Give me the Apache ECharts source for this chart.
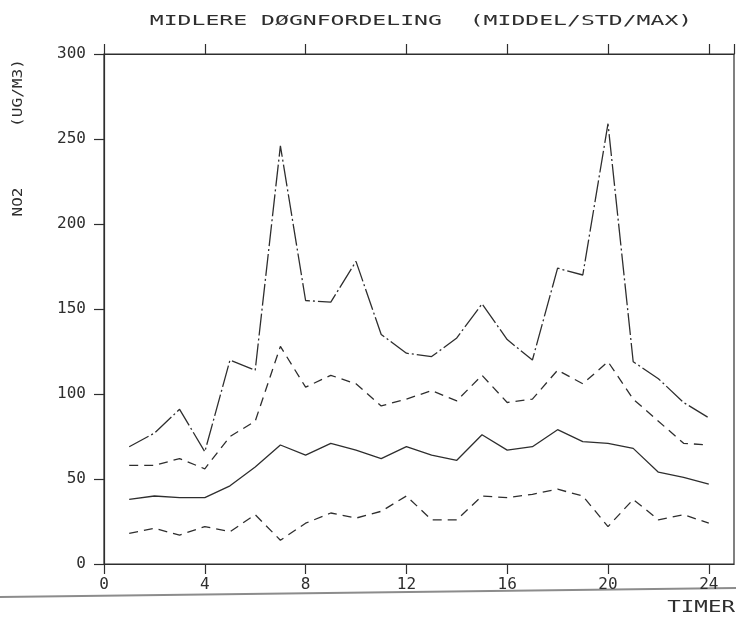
<!DOCTYPE html>
<html>
<head>
<meta charset="utf-8">
<script src="https://cdn.jsdelivr.net/npm/echarts@6/dist/echarts.min.js"></script>
<style>
  html, body { margin: 0; padding: 0; background: #fff; }
  #chart { width: 736px; height: 617px; }
</style>
</head>
<body>
<div id="chart"></div>
<script>
// Hour of day (1..24)
const hours = [1, 2, 3, 4, 5, 6, 7, 8, 9, 10, 11, 12, 13, 14, 15, 16, 17, 18, 19, 20, 21, 22, 23, 24];
// NO2 hourly maximum
const maxValues = [69, 77, 91, 66, 120, 114, 246, 155, 154, 178, 135, 124, 122, 133, 153, 132, 120, 174, 170, 259, 119, 109, 95, 86];
// mean + standard deviation
const upperStd = [58, 58, 62, 56, 75, 84, 128, 104, 111, 106, 93, 97, 102, 96, 111, 95, 97, 114, 106, 119, 97, 84, 71, 70];
// hourly mean
const meanValues = [38, 40, 39, 39, 46, 57, 70, 64, 71, 67, 62, 69, 64, 61, 76, 67, 69, 79, 72, 71, 68, 54, 51, 47];
// mean - standard deviation
const lowerStd = [18, 21, 17, 22, 19, 29, 14, 24, 30, 27, 31, 40, 26, 26, 40, 39, 41, 44, 40, 22, 38, 26, 29, 24];

const xTicks = { min: 0, max: 25, interval: 4 };
const yTicks = { min: 0, max: 300, interval: 50 };

const ink = '#2e2e2e';
const font = 'DejaVu Sans Mono';

const pairs = (ys) => hours.map((h, i) => [h, ys[i]]);

const lineSeries = (name, ys, type) => ({
  name,
  type: 'line',
  data: pairs(ys),
  showSymbol: false,
  symbol: 'none',
  animation: false,
  silent: true,
  lineStyle: { color: ink, width: 1.3, type }
});

const chart = echarts.init(document.getElementById('chart'), null, { renderer: 'canvas' });

chart.setOption({
  backgroundColor: '#fff',
  animation: false,
  grid: { left: 104, right: 2, top: 54, bottom: 53, show: true, borderColor: ink, borderWidth: 1.2 },
  xAxis: [
    {
      type: 'value', position: 'bottom',
      min: xTicks.min, max: xTicks.max, interval: xTicks.interval,
      axisLine: { show: true, onZero: false, lineStyle: { color: ink, width: 1.2 } },
      axisTick: { show: true, inside: false, length: 10, lineStyle: { color: ink, width: 1.2 } },
      axisLabel: { color: ink, fontFamily: font, fontSize: 16, margin: 13, showMaxLabel: false },
      splitLine: { show: false }
    },
    {
      type: 'value', position: 'top',
      min: xTicks.min, max: xTicks.max, interval: xTicks.interval,
      axisLine: { show: true, onZero: false, lineStyle: { color: ink, width: 1.2 } },
      axisTick: { show: true, inside: false, length: 10, lineStyle: { color: ink, width: 1.2 } },
      axisLabel: { show: false },
      splitLine: { show: false }
    }
  ],
  yAxis: {
    type: 'value',
    min: yTicks.min, max: yTicks.max, interval: yTicks.interval,
    axisLine: { show: true, onZero: false, lineStyle: { color: ink, width: 1.2 } },
    axisTick: { show: true, inside: false, length: 10, lineStyle: { color: ink, width: 1.2 } },
    axisLabel: { color: ink, fontFamily: font, fontSize: 16, margin: 18 },
    splitLine: { show: false }
  },
  series: [
    lineSeries('MAX', maxValues, [22, 3, 2, 3]),
    lineSeries('MIDDEL+STD', upperStd, [9, 6]),
    lineSeries('MIDDEL', meanValues, 'solid'),
    lineSeries('MIDDEL-STD', lowerStd, [9, 6])
  ],
  graphic: [
    {
      type: 'text', x: 421, y: 21, scaleX: 1.65, silent: true,
      style: { text: 'MIDLERE DØGNFORDELING  (MIDDEL/STD/MAX)', fill: ink, font: '14px "DejaVu Sans Mono"', textAlign: 'center', textVerticalAlign: 'middle' }
    },
    {
      type: 'text', x: 18, y: 93, rotation: Math.PI / 2, scaleX: 1.15, silent: true,
      style: { text: '(UG/M3)', fill: ink, font: '14px "DejaVu Sans Mono"', textAlign: 'center', textVerticalAlign: 'middle' }
    },
    {
      type: 'text', x: 18, y: 202, rotation: Math.PI / 2, scaleX: 1.15, silent: true,
      style: { text: 'NO2', fill: ink, font: '14px "DejaVu Sans Mono"', textAlign: 'center', textVerticalAlign: 'middle' }
    },
    {
      type: 'text', x: 735, y: 608, scaleX: 1.5, silent: true,
      style: { text: 'TIMER', fill: ink, font: '15px "DejaVu Sans Mono"', textAlign: 'right', textVerticalAlign: 'middle' }
    },
    {
      type: 'line', silent: true, z: -1,
      shape: { x1: 0, y1: 597, x2: 736, y2: 588 },
      style: { stroke: '#8c8c8c', lineWidth: 2 }
    }
  ]
});
</script>
</body>
</html>
